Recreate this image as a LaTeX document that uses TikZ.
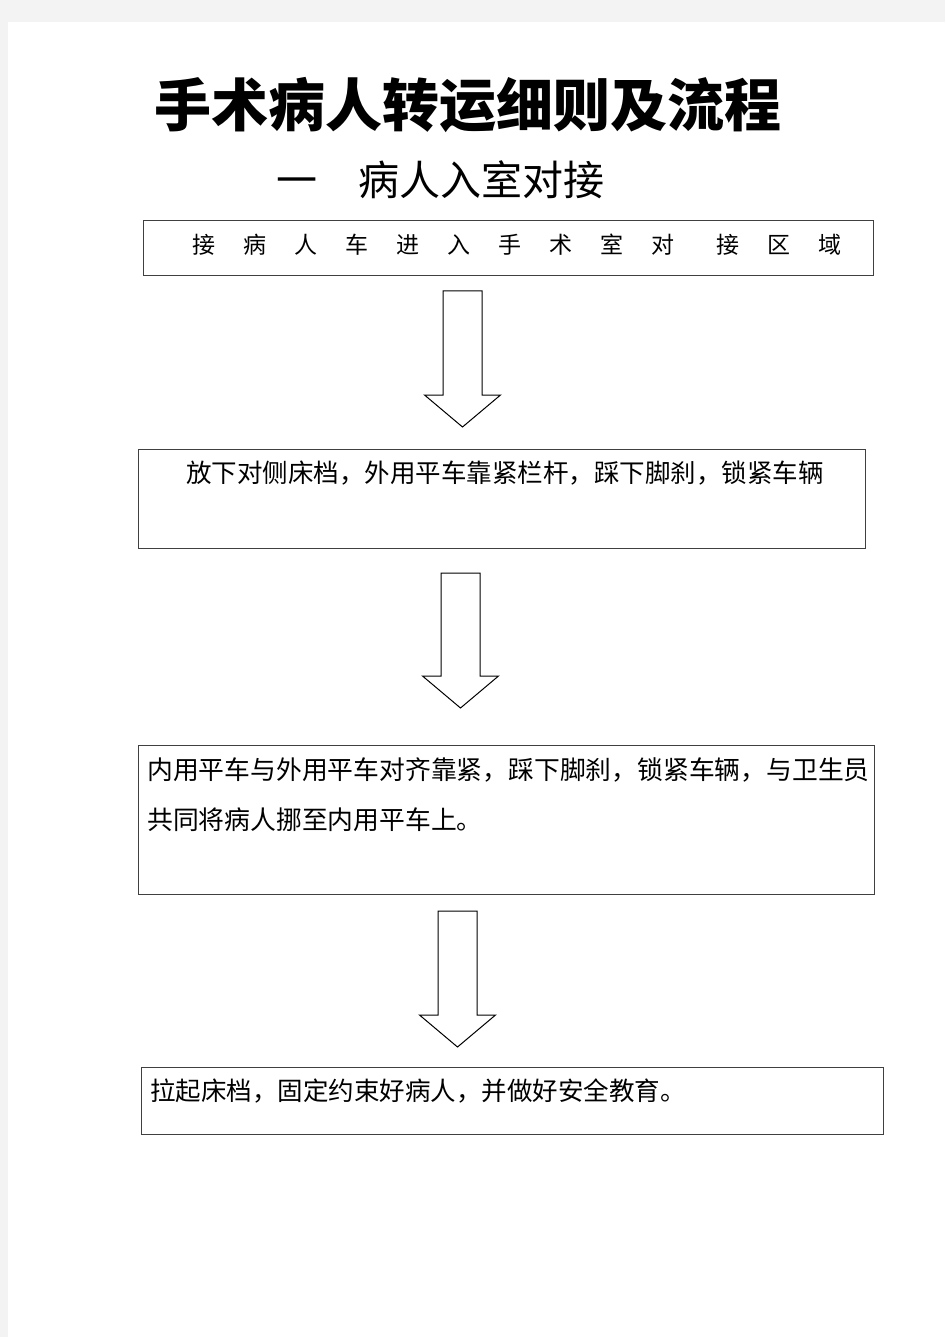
\documentclass[tikz,border=0pt]{standalone}
\usepackage{fontspec}
\setmainfont{Noto Sans CJK SC}
\usetikzlibrary{calc}
\definecolor{pagebg}{HTML}{F3F3F3}
\definecolor{boxline}{HTML}{404040}
\tikzset{
  flowbox/.style={draw=boxline,line width=1.1pt,rectangle,inner sep=0pt},
  boxtext/.style={inner sep=0pt,font=\fontsize{25.5}{30}\selectfont},
  blockarrow/.style={draw=black,line width=1pt,fill=white,line join=miter}
}
\newcommand\downblock[4]{% center x, top y, base y, tip y
  \draw[blockarrow] (#1-19.5,#2) -- (#1+19.5,#2) -- (#1+19.5,#3) -- (#1+38,#3)
    -- (#1,#4) -- (#1-38,#3) -- (#1-19.5,#3) -- cycle;}
\begin{document}
\begin{tikzpicture}[x=1pt,y=-1pt]
\fill[pagebg] (0,0) rectangle (945,1337);
\fill[white] (8,22) rectangle (945,1337);
\useasboundingbox (0,0) rectangle (945,1337);

\node[inner sep=0pt,font=\fontsize{57}{62}\selectfont\bfseries] (title) at (467.5,105) {手术病人转运细则及流程};
\node[inner sep=0pt,anchor=west,font=\fontsize{41}{46}\selectfont] (sub) at (276,180) {一\hspace{41pt}病人入室对接};

% box 1
\node[flowbox,minimum width=730pt,minimum height=55pt,anchor=north west] (b1) at (143,220) {};
\node[inner sep=0pt,anchor=west,font=\fontsize{23}{28}\selectfont] (t1) at ($(b1.north west)+(49,25)$)
  {接\hspace{28pt}病\hspace{28pt}人\hspace{28pt}车\hspace{28pt}进\hspace{28pt}入\hspace{28pt}手\hspace{28pt}术\hspace{28pt}室\hspace{28pt}对\hspace{42pt}接\hspace{28pt}区\hspace{28pt}域};

\downblock{462.5}{291}{395}{427}

% box 2
\node[flowbox,minimum width=727pt,minimum height=99pt,anchor=north west] (b2) at (138,449) {};
\node[boxtext] (t2) at ($(b2.north)+(3,24)$) {放下对侧床档，外用平车靠紧栏杆，踩下脚刹，锁紧车辆};

\downblock{460.5}{573}{676}{708}

% box 3
\node[flowbox,minimum width=736pt,minimum height=149pt,anchor=north west] (b3) at (138,745) {};
\node[boxtext,anchor=west,font=\fontsize{25.8}{30}\selectfont] (t3a) at ($(b3.north west)+(9,25)$) {内用平车与外用平车对齐靠紧，踩下脚刹，锁紧车辆，与卫生员};
\node[boxtext,anchor=west,font=\fontsize{25.8}{30}\selectfont] (t3b) at ($(b3.north west)+(9,75)$) {共同将病人挪至内用平车上。};

\downblock{457.5}{911}{1015}{1047}

% box 4
\node[flowbox,minimum width=742pt,minimum height=67pt,anchor=north west] (b4) at (141,1067) {};
\node[boxtext,anchor=west] (t4) at ($(b4.north west)+(9,24)$) {拉起床档，固定约束好病人，并做好安全教育。};
\end{tikzpicture}
\end{document}
